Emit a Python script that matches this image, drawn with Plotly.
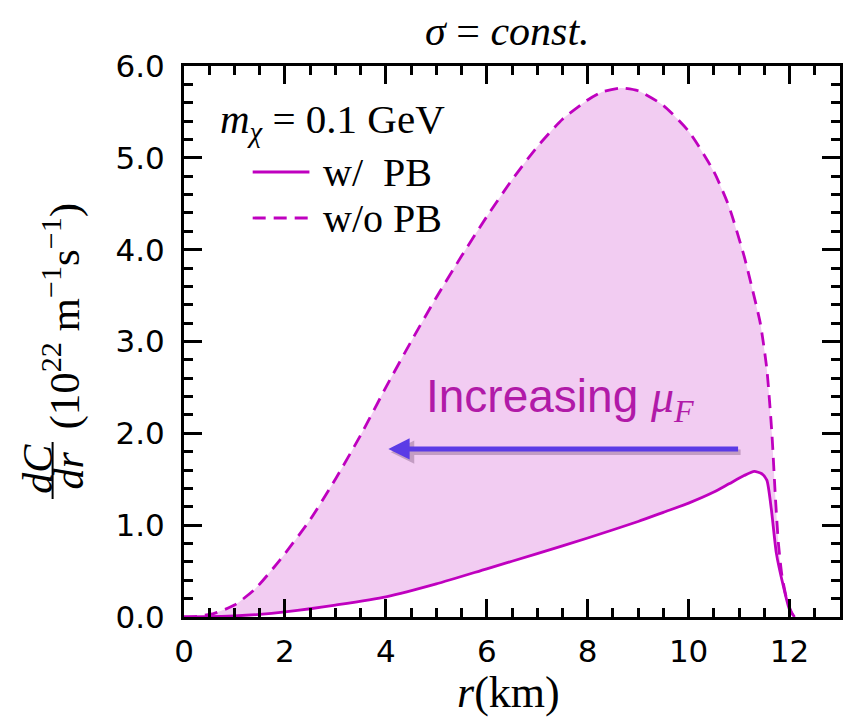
import plotly.graph_objects as go

# ---- data ----
r_wo = [0, 0.3, 0.6, 1.0, 1.4, 1.9, 2.5, 3.0, 3.5, 4.0, 4.5, 5.0, 5.5, 6.0, 6.5, 7.0,
        7.5, 8.0, 8.3, 8.65, 9.0, 9.5, 10.0, 10.5, 10.8, 11.1, 11.25, 11.42, 11.55,
        11.65, 11.72, 11.78, 11.85, 11.95, 12.05, 12.1]
dC_wo = [0, 0.01, 0.04, 0.13, 0.3, 0.62, 1.06, 1.5, 1.98, 2.5, 3.0, 3.48, 3.93, 4.36,
         4.76, 5.12, 5.42, 5.63, 5.72, 5.76, 5.73, 5.57, 5.29, 4.85, 4.47, 3.93, 3.6,
         3.2, 2.7, 2.0, 1.3, 0.8, 0.45, 0.18, 0.04, 0]

r_w = [0, 0.5, 1.0, 1.5, 2.0, 2.5, 3.0, 4.0, 5.0, 6.0, 7.0, 8.0, 9.0, 9.5, 10.0,
       10.5, 10.8, 11.1, 11.3, 11.45, 11.55, 11.64, 11.74, 11.88, 12.0, 12.1]
dC_w = [0, 0.003, 0.012, 0.028, 0.055, 0.09, 0.13, 0.22, 0.36, 0.525, 0.69, 0.86,
        1.04, 1.14, 1.24, 1.36, 1.45, 1.54, 1.585, 1.56, 1.49, 1.17, 0.69, 0.33,
        0.08, 0]

x_ticks = [0, 2, 4, 6, 8, 10, 12]
y_ticks = [0.0, 1.0, 2.0, 3.0, 4.0, 5.0, 6.0]
x_range = [0, 13]
y_range = [0, 6]

# arrow (data coords) and label
arrow_tail = (11.01, 1.83)
arrow_tip = (4.05, 1.83)

MAG = "#bf00bf"
FILL = "rgba(191,0,191,0.2)"
SERIF = "Liberation Serif"
SANS = "DejaVu Sans"
NB = "&nbsp;"

# plot geometry (pixels)
W, H = 846, 720
ML, MR, MT, MB = 184, 3, 66, 103
PW = W - ML - MR
PH = H - MT - MB


def px(xp):
    return (xp - ML) / PW


def py(yp):
    return (H - MB - yp) / PH


fig = go.Figure()

# shaded band between the curves
fig.add_trace(go.Scatter(
    x=r_wo + r_w[::-1], y=dC_wo + dC_w[::-1],
    fill="toself", fillcolor=FILL, line=dict(width=0, shape="spline", smoothing=0.6),
    mode="lines", hoverinfo="skip", showlegend=False))

fig.add_trace(go.Scatter(
    x=r_wo, y=dC_wo, mode="lines", name="w/o PB",
    line=dict(color=MAG, width=2.8, dash="13px,8px", shape="spline", smoothing=0.6),
    showlegend=False))
fig.add_trace(go.Scatter(
    x=r_w, y=dC_w, mode="lines", name="w/ PB",
    line=dict(color=MAG, width=2.8, shape="spline", smoothing=0.6), showlegend=False))

axis_common = dict(
    showline=True, linewidth=3, linecolor="black", mirror="allticks",
    ticks="inside", ticklen=18, tickwidth=3, tickcolor="black",
    showgrid=False, zeroline=False,
    tickfont=dict(family=SANS, size=31, color="black"),
)

fig.update_xaxes(range=x_range, tickvals=x_ticks, ticktext=[str(v) for v in x_ticks],
                 minor=dict(ticks="inside", ticklen=9, tickwidth=2.5, dtick=0.5,
                            tickcolor="black", showgrid=False),
                 ticklabelstandoff=5, **axis_common)
fig.update_yaxes(range=y_range, tickvals=y_ticks, ticktext=[f"{v:.1f}" for v in y_ticks],
                 minor=dict(ticks="inside", ticklen=9, tickwidth=2.5, dtick=0.2,
                            tickcolor="black", showgrid=False),
                 ticklabelstandoff=10, **axis_common)

ann = []
# title
ann.append(dict(x=px(509), y=py(31), xref="paper", yref="paper", showarrow=False,
                text=f"<i>σ</i>{NB}={NB}<i>const.</i>",
                font=dict(family=SERIF, size=42, color="black"),
                xanchor="center", yanchor="middle"))
# x axis title
ann.append(dict(x=px(510), y=py(692), xref="paper", yref="paper", showarrow=False,
                text="<i>r</i>(km)", font=dict(family=SERIF, size=44, color="black"),
                xanchor="center", yanchor="middle"))
# y axis title: units part
ann.append(dict(x=px(60), y=py(316), xref="paper", yref="paper", showarrow=False,
                text=f"(10<sup>22</sup>{NB}m<sup>−1</sup>s<sup>−1</sup>)", textangle=-90,
                font=dict(family=SERIF, size=43, color="black"),
                xanchor="center", yanchor="middle"))
# y axis title: fraction dC/dr
ann.append(dict(x=px(37), y=py(469), xref="paper", yref="paper", showarrow=False,
                text="<i>dC</i>", textangle=-90,
                font=dict(family=SERIF, size=42, color="black"),
                xanchor="center", yanchor="middle"))
ann.append(dict(x=px(68), y=py(471), xref="paper", yref="paper", showarrow=False,
                text="<i>dr</i>", textangle=-90,
                font=dict(family=SERIF, size=42, color="black"),
                xanchor="center", yanchor="middle"))

# legend (manual)
ann.append(dict(x=px(218), y=py(122), xref="paper", yref="paper", showarrow=False,
                text=f"<i>m</i><sub><i>χ</i></sub>{NB}={NB}0.1{NB}GeV",
                font=dict(family=SERIF, size=41, color="black"),
                xanchor="left", yanchor="middle"))
ann.append(dict(x=px(322), y=py(172), xref="paper", yref="paper", showarrow=False,
                text=f"w/{NB}{NB}PB", font=dict(family=SERIF, size=40, color="black"),
                xanchor="left", yanchor="middle"))
ann.append(dict(x=px(322), y=py(218), xref="paper", yref="paper", showarrow=False,
                text=f"w/o{NB}PB", font=dict(family=SERIF, size=40, color="black"),
                xanchor="left", yanchor="middle"))

# "Increasing mu_F" label
ann.append(dict(x=(425 - ML) / PW * (x_range[1] - x_range[0]), y=2.37, xref="x", yref="y",
                showarrow=False,
                text="Increasing <span style='font-family:Liberation Serif'><i>μ</i><sub><i>F</i></sub></span>",
                font=dict(family="Liberation Sans", size=46, color="#b11aa8"),
                xanchor="left", yanchor="middle"))

# arrow shadow + arrow
ann.append(dict(x=arrow_tip[0] + 0.05, y=arrow_tip[1] - 0.035, ax=arrow_tail[0] + 0.05,
                ay=arrow_tail[1] - 0.035, xref="x", yref="y", axref="x", ayref="y",
                text="", showarrow=True, arrowhead=2, arrowsize=0.85, arrowwidth=5.5,
                arrowcolor="rgba(90,50,90,0.30)"))
ann.append(dict(x=arrow_tip[0], y=arrow_tip[1], ax=arrow_tail[0], ay=arrow_tail[1],
                xref="x", yref="y", axref="x", ayref="y",
                text="", showarrow=True, arrowhead=2, arrowsize=0.85, arrowwidth=5,
                arrowcolor="#5b3be6"))

shapes = [
    # fraction bar
    dict(type="line", xref="paper", yref="paper", x0=px(52), x1=px(52),
         y0=py(442), y1=py(499), line=dict(color="black", width=2)),
    # legend samples
    dict(type="line", xref="paper", yref="paper", x0=px(253), x1=px(310),
         y0=py(172), y1=py(172), line=dict(color=MAG, width=2.8)),
    dict(type="line", xref="paper", yref="paper", x0=px(253), x1=px(310),
         y0=py(218), y1=py(218), line=dict(color=MAG, width=2.8, dash="13px,8px")),
]

fig.update_layout(
    width=W, height=H,
    margin=dict(l=ML, r=MR, t=MT, b=MB),
    paper_bgcolor="white", plot_bgcolor="white",
    annotations=ann, shapes=shapes, showlegend=False,
)

fig.write_html("out.html")
